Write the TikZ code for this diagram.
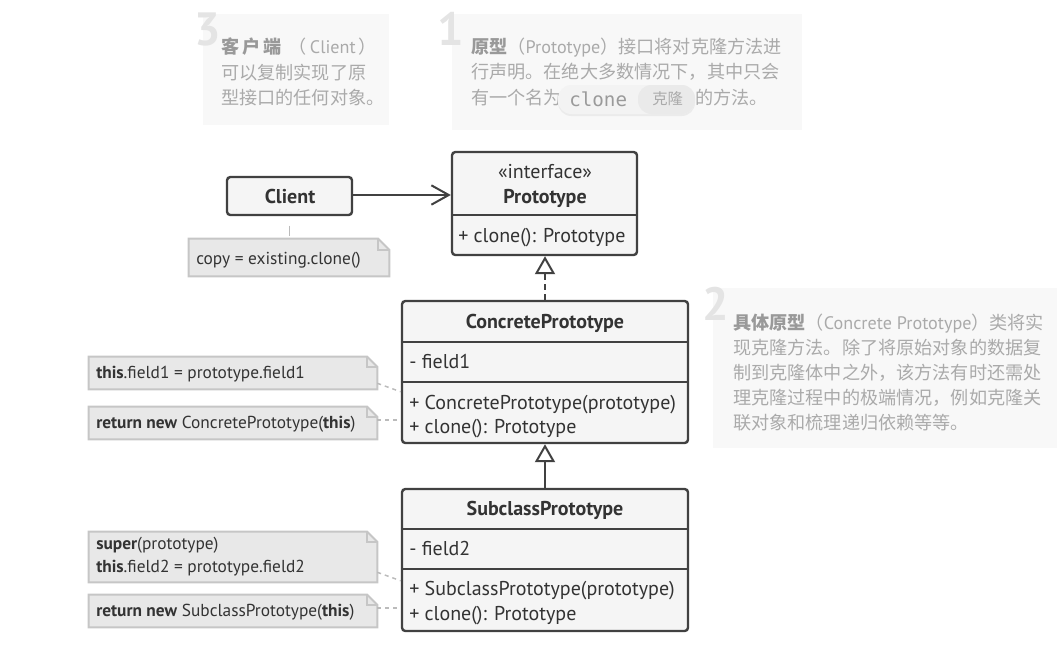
\documentclass[tikz,border=0pt]{standalone}
\usepackage{fontspec}
\setmainfont{PT Sans}
\newfontfamily\cjk{Noto Sans CJK SC}
\newfontfamily\latf{PT Sans}
\newfontfamily\monof{DejaVu Sans Mono}
\usetikzlibrary{arrows.meta,fit,calc}
\definecolor{ink}{HTML}{414141}
\definecolor{txtc}{HTML}{333333}
\definecolor{boxfill}{HTML}{F5F5F5}
\definecolor{notefill}{HTML}{E8E8E8}
\definecolor{noteline}{HTML}{C6C6C6}
\definecolor{linkc}{HTML}{BBBBBB}
\definecolor{annofill}{HTML}{F8F8F8}
\definecolor{annotext}{HTML}{AAAAAA}
\definecolor{annobold}{HTML}{999999}
\definecolor{numc}{HTML}{E4E4E4}
\definecolor{pillfill}{HTML}{F3F3F3}
\definecolor{pillin}{HTML}{EAEAEA}
\definecolor{pillshadow}{HTML}{EBEBEB}
\definecolor{monoc}{HTML}{9A9A9A}
\begin{document}
\begin{tikzpicture}[x=0.75pt,y=-0.75pt,
  cls/.style={draw=ink, fill=boxfill, line width=1.8pt, rounded corners=2.5pt, inner sep=0pt},
  divider/.style={draw=ink, line width=1.8pt},
  ctext/.style={font=\fontsize{15}{18}\selectfont, text=txtc, inner sep=0pt, anchor=base west},
  ctitle/.style={font=\fontsize{15}{18}\selectfont\bfseries, text=txtc, inner sep=0pt, anchor=base},
  cstereo/.style={font=\fontsize{15}{18}\selectfont, text=txtc, inner sep=0pt, anchor=base},
  notebox/.style={draw=noteline, fill=notefill, line width=1.5pt, line join=miter},
  ntext/.style={font=\fontsize{13}{16}\selectfont, text=txtc, inner sep=0pt, anchor=base west},
  notelink/.style={draw=linkc, line width=1.1pt, dash pattern=on 3pt off 3pt},
  anno/.style={fill=annofill, inner sep=0pt},
  atext/.style={font=\cjk\fontsize{13.6}{18}\selectfont, text=annotext, inner sep=0pt, anchor=base west},
  num/.style={font=\fontsize{35}{36}\selectfont\bfseries, text=numc, inner sep=0pt, anchor=base west},
  assoc/.style={draw=ink, line width=1.6pt, -{Straight Barb[length=13pt,width=14.5pt,line width=1.5pt]}},
  inherit/.style={draw=ink, line width=1.6pt, -{Triangle[length=13.5pt,width=15pt,fill=white,line width=1.5pt]}},
  realize/.style={inherit, dash pattern=on 4.5pt off 3pt},
]
\useasboundingbox (0,0) rectangle (1057,647);

% ---------- annotation panels ----------
\node[anno, fit={(203,14)(389,125)}] (anno3) {};
\node[anno, fit={(452,14)(802,130)}] (anno1) {};
\node[anno, fit={(713,288)(1057,448)}] (anno2) {};
\node[num] (num3) at (194,45) {3};
\node[num] (num1) at (437,45) {1};
\node[num] (num2) at (702,320) {2};

% panel 3
\node[atext] (a3l1) at (221,53) {{\bfseries\color{annobold}客\,户\,端}\ \,（\,{\latf Client}\,）};
\node[atext] (a3l2) at (221,79) {可以复制实现了原};
\node[atext] (a3l3) at (221,104) {型接口的任何对象。};

% panel 1
\node[atext] (a1l1) at (471,53) {{\bfseries\color{annobold}原型}（{\latf Prototype}）接口将对克隆方法进};
\node[atext] (a1l2) at (471,78) {行声明。在绝大多数情况下，其中只会};
\node[atext] (a1l3a) at (471,104) {有一个名为};
\node[fit={(558,88)(695,116)}, fill=pillshadow, rounded corners=10pt, inner sep=0pt] (pillsh) {};
\node[fit={(558,85)(695,114)}, fill=pillfill, rounded corners=10pt, inner sep=0pt] (pill) {};
\node[fit={(638,85)(695,114)}, fill=pillin, rounded corners=10pt, inner sep=0pt] (pillk) {};
\node[font=\monof\fontsize{14.4}{16}\selectfont, text=monoc, inner sep=0pt, anchor=base west] (clonew) at (569,106) {clone};
\node[font=\cjk\fontsize{11.5}{14}\selectfont, text=annotext, inner sep=0pt, anchor=base west] (kelong) at (652,104) {克隆};
\node[atext] (a1l3b) at (695,104) {的方法。};

% panel 2
\node[atext] (a2l1) at (733,329) {{\bfseries\color{annobold}具体原型}（{\latf Concrete Prototype}）类将实};
\node[atext] (a2l2) at (733,354) {现克隆方法。除了将原始对象的数据复};
\node[atext] (a2l3) at (733,379) {制到克隆体中之外，该方法有时还需处};
\node[atext] (a2l4) at (733,404) {理克隆过程中的极端情况，例如克隆关};
\node[atext] (a2l5) at (733,429) {联对象和梳理递归依赖等等。};

% ---------- classes ----------
\node[cls, fit={(227,177)(352,215)}] (client) {};
\node[ctitle] (clientT) at (290,203) {Client};

\node[cls, fit={(452,152)(637,255)}] (proto) {};
\draw[divider] (proto.west |- 0,215) -- (proto.east |- 0,215);
\node[cstereo] (protoS) at (545,178) {«interface»};
\node[ctitle] (protoT) at (545,203) {Prototype};
\node[ctext] (protoM) at (458,242) {+ clone(): Prototype};

\node[cls, fit={(402,301)(688,443)}] (concrete) {};
\draw[divider] (concrete.west |- 0,342) -- (concrete.east |- 0,342);
\draw[divider] (concrete.west |- 0,382) -- (concrete.east |- 0,382);
\node[ctitle] (concreteT) at (545,328) {ConcretePrototype};
\node[ctext] (concreteF) at (409,368) {- field1};
\node[ctext] (concreteM1) at (409,409) {+ ConcretePrototype(prototype)};
\node[ctext] (concreteM2) at (409,433) {+ clone(): Prototype};

\node[cls, fit={(402,489)(688,631)}] (sub) {};
\draw[divider] (sub.west |- 0,529) -- (sub.east |- 0,529);
\draw[divider] (sub.west |- 0,569) -- (sub.east |- 0,569);
\node[ctitle] (subT) at (545,515) {SubclassPrototype};
\node[ctext] (subF) at (409,555) {- field2};
\node[ctext] (subM1) at (409,595) {+ SubclassPrototype(prototype)};
\node[ctext] (subM2) at (409,620) {+ clone(): Prototype};

% ---------- notes ----------
\newcommand{\notebox}[2]{%
  \draw[notebox] (#1.north west) -- ($(#1.north east)+(-#2,0)$) -- ($(#1.north east)+(0,#2)$) -- (#1.south east) -- (#1.south west) -- cycle;
  \draw[draw=noteline, line width=1.5pt] ($(#1.north east)+(-#2,0)$) -- ($(#1.north east)+(-#2,#2)$) -- ($(#1.north east)+(0,#2)$);
}
\node[fit={(189,239)(389,276)}, inner sep=0pt] (n0) {};
\notebox{n0}{11}
\node[ntext] (n0t) at (196,264) {copy = existing.clone()};

\node[fit={(89,357)(377,389)}, inner sep=0pt] (n1) {};
\notebox{n1}{10}
\node[ntext] (n1t) at (96,378) {\textbf{this}.field1 = prototype.field1};

\node[fit={(89,407)(377,439)}, inner sep=0pt] (n2) {};
\notebox{n2}{10}
\node[ntext] (n2t) at (96,428) {\textbf{return new} ConcretePrototype(\textbf{this})};

\node[fit={(89,532)(377,582)}, inner sep=0pt] (n3) {};
\notebox{n3}{10}
\node[ntext] (n3t1) at (96,549) {\textbf{super}(prototype)};
\node[ntext] (n3t2) at (96,572) {\textbf{this}.field2 = prototype.field2};

\node[fit={(89,595)(377,627)}, inner sep=0pt] (n4) {};
\notebox{n4}{10}
\node[ntext] (n4t) at (96,616) {\textbf{return new} SubclassPrototype(\textbf{this})};

% ---------- connectors ----------
\draw[assoc] ($(client.east)+(0,-1)$) -- ($(client.east -| proto.west)+(0,-1)$);
\draw[realize] (concrete.north) -- (concrete.north |- proto.south);
\draw[inherit] (sub.north) -- (sub.north |- concrete.south);

\draw[notelink, dash pattern=on 0pt off 7pt on 8pt off 30pt] (client.south) -- (client.south |- n0.north);
\draw[notelink] ($(n1.south east)+(0,-6)$) -- ($(concrete.north west)+(0,92)$);
\draw[notelink] ($(n2.east)+(0,-3)$) -- ($(n2.east -| concrete.west)+(0,-3)$);
\draw[notelink] ($(n3.south east)+(0,-10)$) -- ($(sub.north west)+(0,93)$);
\draw[notelink] ($(n4.east)+(0,-3)$) -- ($(n4.east -| sub.west)+(0,-3)$);
\end{tikzpicture}
\end{document}
